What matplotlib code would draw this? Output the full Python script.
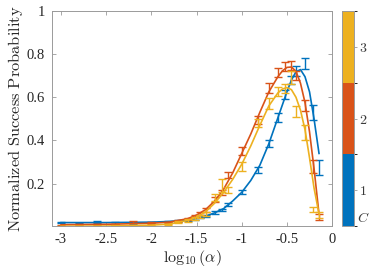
import numpy as np
import matplotlib
matplotlib.use('agg')
import matplotlib.pyplot as plt
from matplotlib.colors import ListedColormap, BoundaryNorm
import matplotlib.colorbar as mcb

plt.rcParams['mathtext.fontset'] = 'cm'
plt.rcParams['font.family'] = ['Liberation Serif', 'DejaVu Serif']

# data points (log10 alpha)
xpts = [-3.0, -2.8, -2.6, -2.4, -2.2, -2.0, -1.82, -1.7, -1.6, -1.52, -1.46, -1.40,
        -1.30, -1.22, -1.15, -1.0, -0.82, -0.70, -0.60, -0.52, -0.45, -0.40, -0.30,
        -0.21, -0.15]

y1 = [0.020, 0.017, 0.022, 0.018, 0.018, 0.020, 0.024, 0.027, 0.033, 0.038, 0.044, 0.052,
      0.068, 0.079, 0.105, 0.162, 0.265, 0.385, 0.507, 0.612, 0.680, 0.722, 0.758,
      0.530, 0.275]
e1 = [0.004, 0.003, 0.005, 0.003, 0.003, 0.003, 0.003, 0.003, 0.004, 0.004, 0.004, 0.005,
      0.006, 0.006, 0.007, 0.008, 0.014, 0.016, 0.020, 0.020, 0.020, 0.022, 0.025,
      0.033, 0.035]

y2 = [0.008, 0.012, 0.012, 0.012, 0.022, 0.018, 0.020, 0.028, 0.035, 0.050, 0.063, 0.078,
      0.125, 0.160, 0.240, 0.350, 0.495, 0.643, 0.714, 0.742, 0.748, 0.700, 0.560,
      0.280, 0.045]
e2 = [0.003, 0.003, 0.003, 0.003, 0.006, 0.003, 0.004, 0.004, 0.005, 0.006, 0.006, 0.008,
      0.012, 0.012, 0.015, 0.018, 0.020, 0.022, 0.022, 0.022, 0.022, 0.020, 0.025,
      0.030, 0.015]

y3 = [0.002, 0.004, 0.004, 0.005, 0.006, 0.008, 0.012, 0.022, 0.030, 0.040, 0.048, 0.060,
      0.137, 0.190, 0.170, 0.280, 0.480, 0.572, 0.627, 0.640, 0.690, 0.534, 0.438,
      0.080, 0.055]
e3 = [0.002, 0.002, 0.002, 0.002, 0.002, 0.003, 0.003, 0.004, 0.005, 0.006, 0.006, 0.008,
      0.015, 0.030, 0.015, 0.020, 0.018, 0.025, 0.020, 0.022, 0.030, 0.025, 0.035,
      0.012, 0.015]

# fitted curves
xfit = [-3.0, -2.5, -2.0, -1.8, -1.6, -1.5, -1.4, -1.3, -1.2, -1.1, -1.0, -0.9, -0.8,
        -0.7, -0.6, -0.55, -0.5, -0.45, -0.4, -0.35, -0.3, -0.25, -0.2, -0.145]
f1 = [0.020, 0.020, 0.022, 0.025, 0.033, 0.040, 0.050, 0.065, 0.085, 0.120, 0.160, 0.215,
      0.285, 0.385, 0.505, 0.565, 0.625, 0.680, 0.718, 0.728, 0.695, 0.625, 0.500, 0.340]
f2 = [0.010, 0.012, 0.017, 0.022, 0.038, 0.055, 0.080, 0.120, 0.175, 0.250, 0.340, 0.430,
      0.530, 0.625, 0.695, 0.722, 0.738, 0.740, 0.720, 0.665, 0.575, 0.440, 0.270, 0.060]
f3 = [0.003, 0.004, 0.008, 0.013, 0.030, 0.045, 0.070, 0.110, 0.160, 0.220, 0.290, 0.375,
      0.470, 0.560, 0.620, 0.638, 0.645, 0.635, 0.600, 0.540, 0.450, 0.320, 0.180, 0.060]

colors = [(0.0, 0.447, 0.741), (0.85, 0.325, 0.098), (0.929, 0.694, 0.125)]
cticks = [1, 2, 3]

fig = plt.figure(figsize=(3.74, 2.70), dpi=100)
ax = fig.add_axes([0.139, 0.162, 0.749, 0.798])

for yy, ee, ff, c in zip([y1, y2, y3], [e1, e2, e3], [f1, f2, f3], colors):
    ax.plot(xfit, ff, color=c, linewidth=1.2)
    ax.errorbar(xpts, yy, yerr=ee, fmt='none', ecolor=c, elinewidth=1.0,
                capsize=2.6, capthick=1.0)

ax.set_xlim(-3.1, 0)
ax.set_ylim(0.003, 1)
ax.set_xticks([-3, -2.5, -2, -1.5, -1, -0.5, 0])
ax.set_xticklabels(['-3', '-2.5', '-2', '-1.5', '-1', '-0.5', '0'])
ax.set_yticks([0.2, 0.4, 0.6, 0.8, 1])
ax.set_yticklabels(['0.2', '0.4', '0.6', '0.8', '1'])
ax.tick_params(direction='in', top=True, right=True, length=3, width=0.6,
               colors='#262626', labelsize=10.5, pad=5)
for sp in ax.spines.values():
    sp.set_color('#9a9a9a')
    sp.set_linewidth(0.7)
ax.tick_params(color='#9a9a9a')

ax.set_ylabel(r'$\mathrm{Normalized\ Success\ Probability}$', fontsize=11.8,
              color='#262626', labelpad=1)
ax.set_xlabel(r'$\log_{10}(\alpha)$', fontsize=11.5, color='#262626', labelpad=1)

cax = fig.add_axes([0.915, 0.162, 0.031, 0.798])
cmap = ListedColormap(colors)
norm = BoundaryNorm([0.5, 1.5, 2.5, 3.5], cmap.N)
cb = mcb.ColorbarBase(cax, cmap=cmap, norm=norm, ticks=cticks)
cb.set_ticklabels([r'$1$', r'$2$', r'$3$'])
cb.outline.set_edgecolor('#9a9a9a')
cb.outline.set_linewidth(0.7)
cax.tick_params(direction='out', length=2, width=0.6, color='#9a9a9a',
                labelsize=10, labelcolor='#3a3a3a', pad=2)
cax.text(1.25, 0.04, r'$C$', transform=cax.transAxes, fontsize=10,
         color='#3a3a3a', va='center', ha='left')

fig.savefig('out.png', dpi=100)
